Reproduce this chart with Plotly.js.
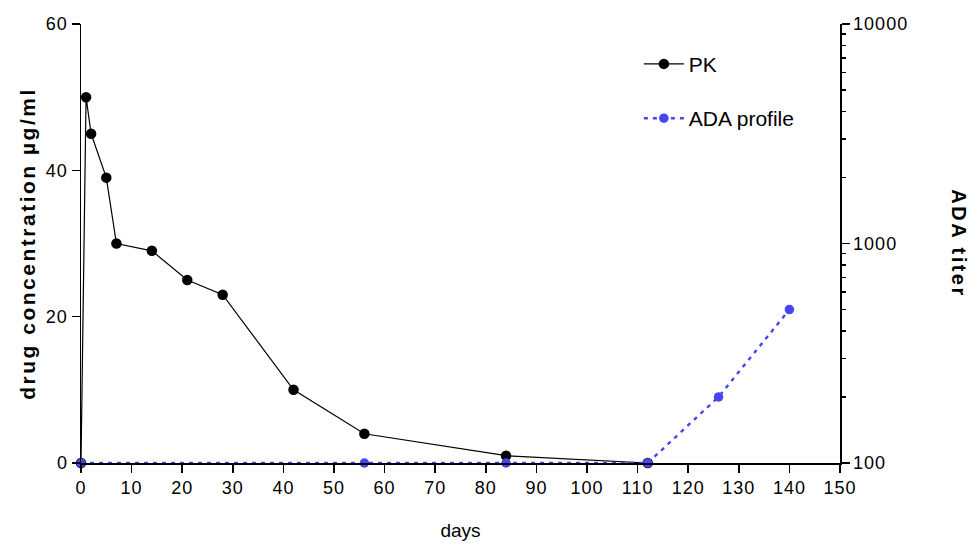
<!DOCTYPE html>
<html>
<head>
<meta charset="utf-8">
<script src="https://cdn.plot.ly/plotly-3.0.1.min.js"></script>
<style>
html,body{margin:0;padding:0;background:#fff;}
#chart{width:977px;height:545px;}
#chart .xtick text, #chart .ytick text, #chart .y2tick text {letter-spacing:1px;}
#chart .g-ytitle text, #chart .annotation-text {letter-spacing:2.5px;}
</style>
</head>
<body>
<div id="chart"></div>
<script>
const pkDays = [0, 1, 2, 5, 7, 14, 21, 28, 42, 56, 84, 112];
const pkConc = [0, 50, 45, 39, 30, 29, 25, 23, 10, 4, 1, 0];
const adaDays = [0, 56, 84, 112, 126, 140];
const adaTiter = [100, 100, 100, 100, 200, 500];
const xTicks = [0, 10, 20, 30, 40, 50, 60, 70, 80, 90, 100, 110, 120, 130, 140, 150];
const yTicks = [0, 20, 40, 60];
const y2Ticks = [100, 1000, 10000];
const y2MinorTicks = [200, 300, 400, 500, 600, 700, 800, 900, 2000, 3000, 4000, 5000, 6000, 7000, 8000, 9000];

const fontFam = 'Liberation Sans, Arial, sans-serif';

const traces = [
  {
    x: pkDays, y: pkConc, name: 'PK', type: 'scatter', mode: 'lines+markers',
    line: {color: '#000000', width: 1.2},
    marker: {color: '#000000', size: 10.5, symbol: 'circle'},
    cliponaxis: false, legendgroup: 'a'
  },
  {
    x: adaDays, y: adaTiter, name: 'ADA profile', type: 'scatter', mode: 'lines+markers',
    yaxis: 'y2',
    line: {color: '#4545f2', width: 2.4, dash: '4px,5px'},
    marker: {color: '#4545f2', size: 9.5, symbol: 'circle'},
    cliponaxis: false, legendgroup: 'b'
  },
  {
    // empty helper trace so the minor-tick axis is drawn
    x: [null], y: [null], yaxis: 'y3', type: 'scatter', mode: 'markers',
    showlegend: false, hoverinfo: 'skip'
  }
];

const layout = {
  width: 977, height: 545,
  margin: {l: 81, r: 137, t: 24, b: 82},
  paper_bgcolor: '#ffffff', plot_bgcolor: '#ffffff',
  font: {family: fontFam, size: 18, color: '#000'},
  showlegend: true,
  legend: {x: 0.735, y: 0.955, xanchor: 'left', yanchor: 'top',
           font: {family: fontFam, size: 21, color: '#000'},
           bgcolor: 'rgba(0,0,0,0)', tracegroupgap: 24, traceorder: 'grouped', itemwidth: 40},
  xaxis: {
    range: [0, 150], tickvals: xTicks, ticktext: xTicks.map(String),
    showgrid: false, zeroline: false, showline: true, linecolor: '#000', linewidth: 1.5,
    ticks: 'outside', ticklen: 8, tickwidth: 1.5, tickcolor: '#000',
    tickfont: {family: fontFam, size: 18},
    title: {text: 'days', font: {family: fontFam, size: 19}, standoff: 26}
  },
  yaxis: {
    range: [0, 60], tickvals: yTicks, ticktext: yTicks.map(String),
    showgrid: false, zeroline: false, showline: true, linecolor: '#000', linewidth: 1.5,
    ticks: 'outside', ticklen: 8, tickwidth: 1.5, tickcolor: '#000',
    tickfont: {family: fontFam, size: 18},
    title: {text: 'drug concentration µg/ml', font: {family: fontFam, size: 21, weight: 'bold'}, standoff: 6}
  },
  yaxis2: {
    type: 'log', range: [2, 4], overlaying: 'y', side: 'right',
    tickvals: y2Ticks, ticktext: y2Ticks.map(String),
    showgrid: false, zeroline: false, showline: true, linecolor: '#000', linewidth: 1.5,
    ticks: 'outside', ticklen: 8, tickwidth: 1.5, tickcolor: '#000',
    tickfont: {family: fontFam, size: 18}
  },
  yaxis3: {
    type: 'log', range: [2, 4], overlaying: 'y', side: 'right',
    tickvals: y2MinorTicks, showticklabels: false,
    showgrid: false, zeroline: false, showline: false,
    ticks: 'outside', ticklen: 5, tickwidth: 1.5, tickcolor: '#000'
  },
  annotations: [
    {text: '<b>ADA titer</b>', xref: 'paper', yref: 'paper', x: 1.158, y: 0.50,
     xanchor: 'center', yanchor: 'middle', textangle: 90, showarrow: false,
     font: {family: fontFam, size: 20, color: '#000'}}
  ]
};

Plotly.newPlot('chart', traces, layout, {displayModeBar: false, staticPlot: true});
</script>
</body>
</html>
